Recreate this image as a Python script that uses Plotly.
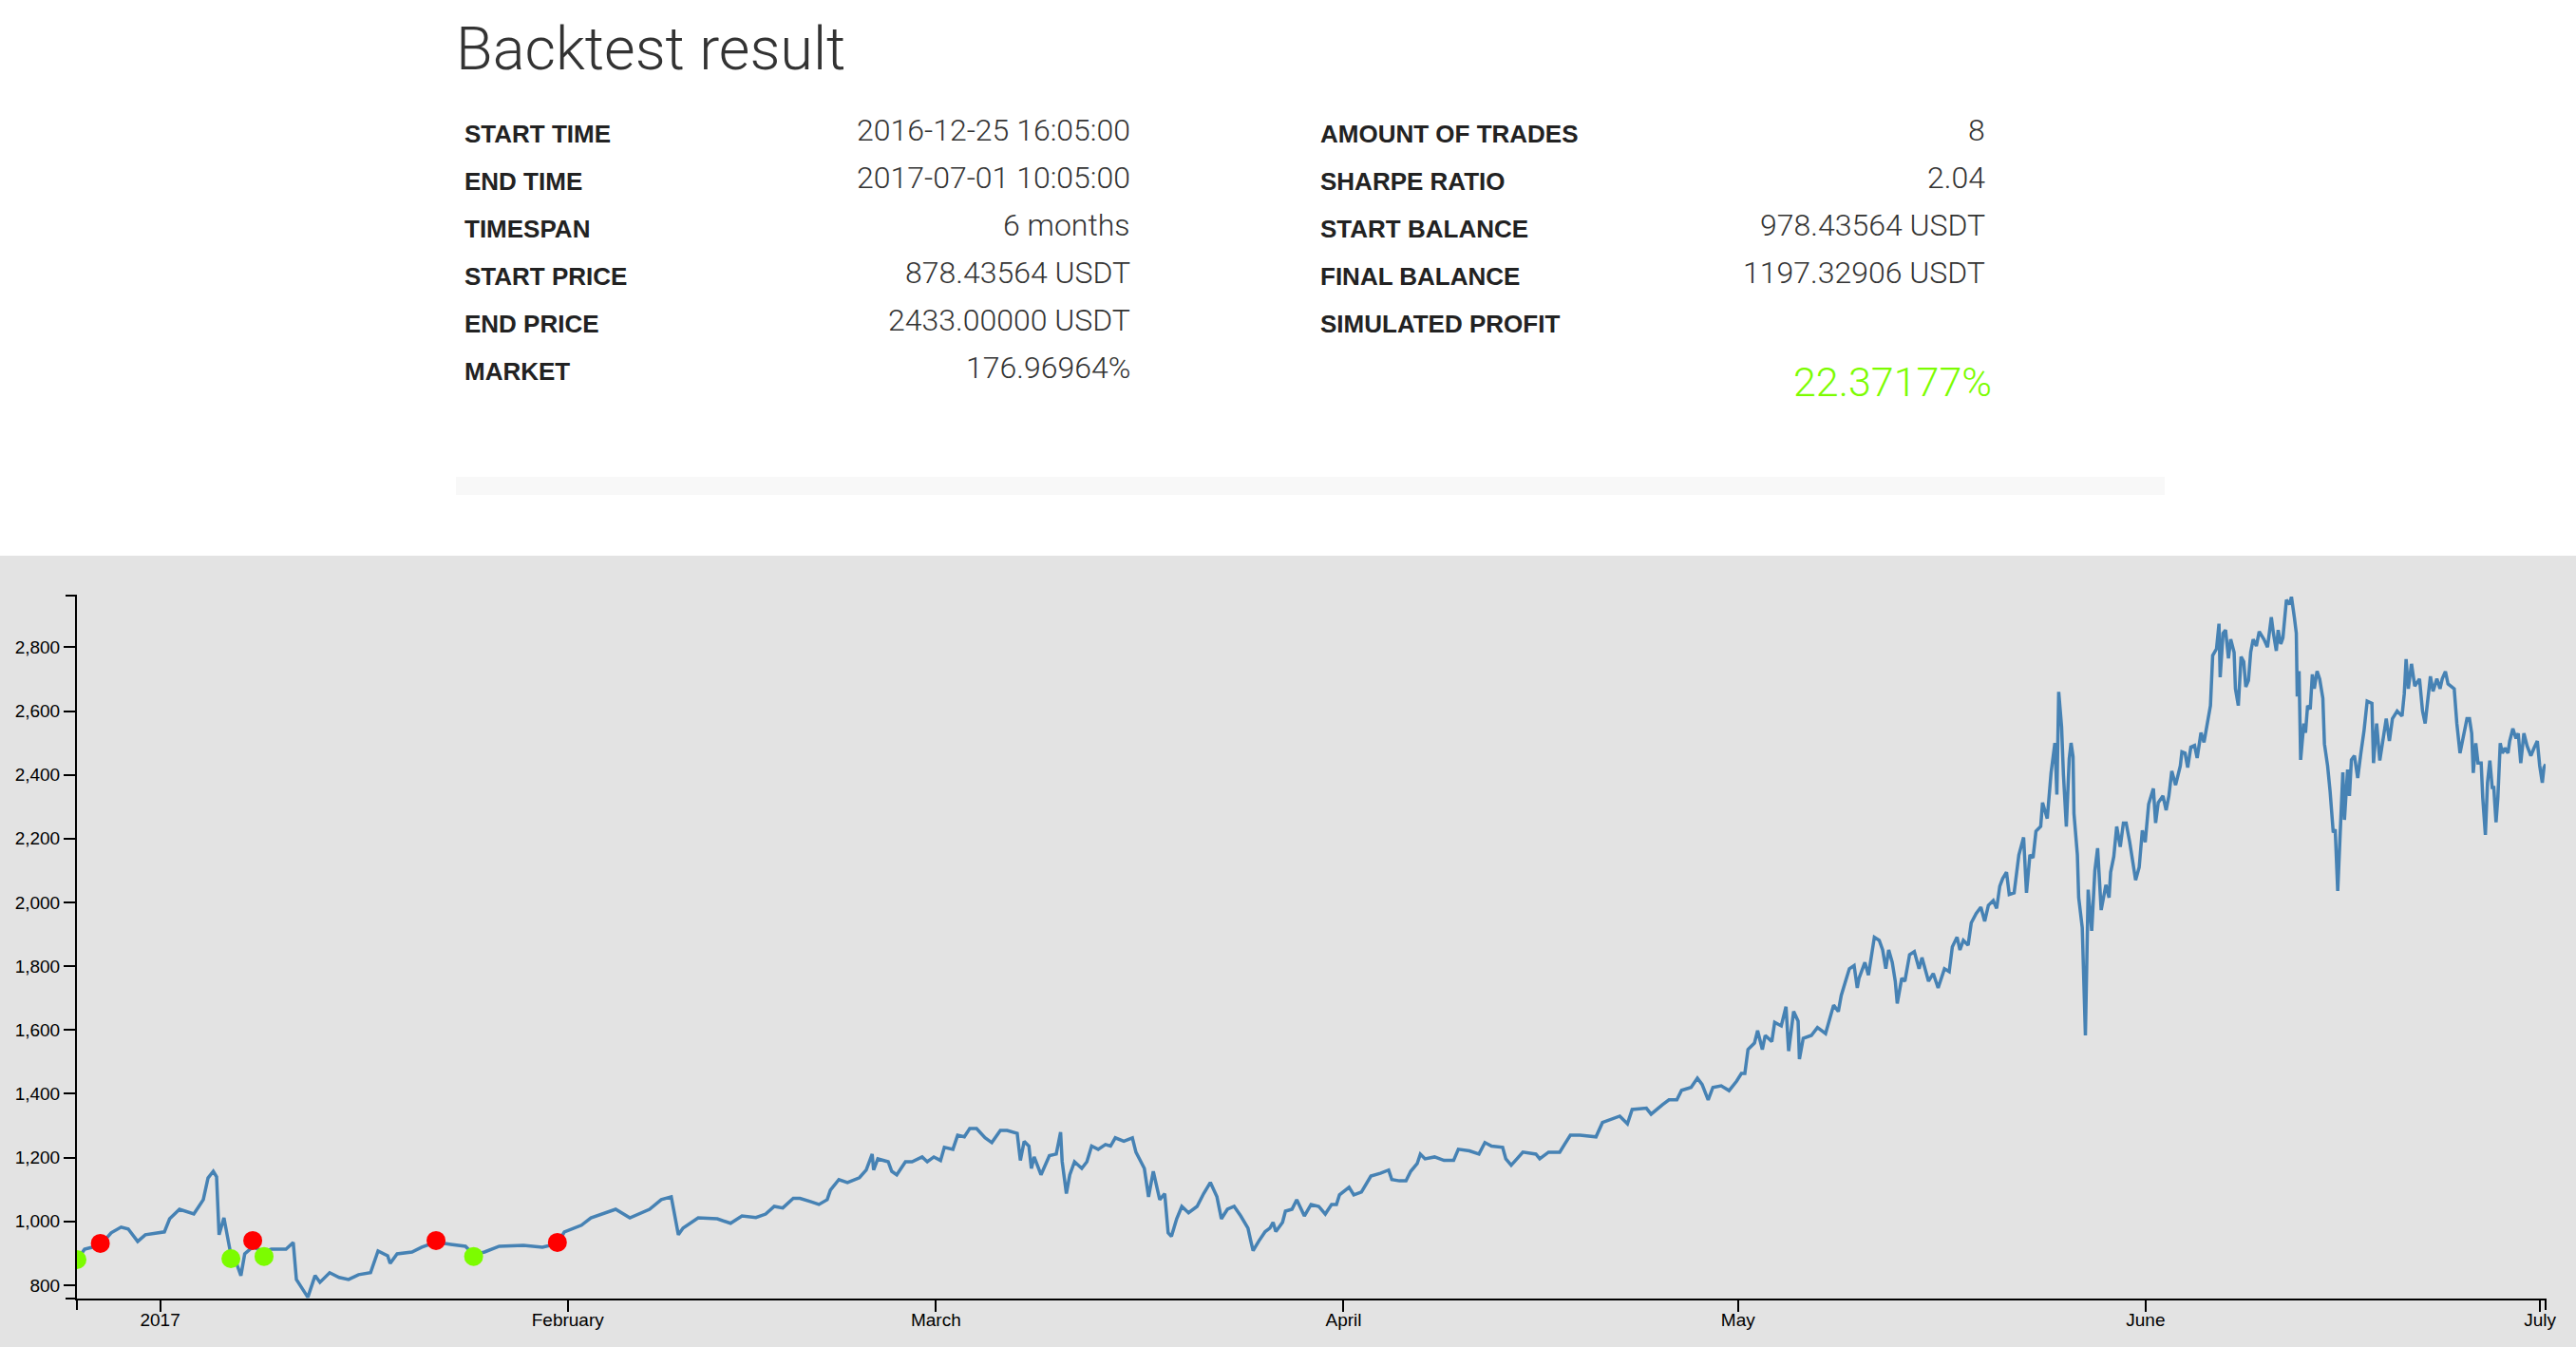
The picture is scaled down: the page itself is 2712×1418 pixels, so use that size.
import pandas as pd
import plotly.graph_objects as go

START = "2016-12-25 16:05:00"
END = "2017-07-01 10:05:00"

# price series: days elapsed since START, and price (USDT)
day_offsets = [
    0.00, 0.58, 1.16, 1.78, 2.60, 3.36, 3.90, 4.62, 5.20, 6.65, 7.05, 7.80, 8.89, 9.61, 9.97,
    10.37, 10.62, 10.81, 11.18, 11.49, 11.71, 11.92, 12.21, 12.47, 12.76, 13.37, 14.23, 14.79,
    15.90, 16.45, 16.69, 17.20, 17.56, 18.11, 18.48, 19.22, 19.94, 20.66, 21.42, 22.33, 22.90,
    23.63, 23.82, 24.35, 25.48, 26.23, 27.31, 28.43, 29.55, 30.17, 31.00, 32.12, 33.96, 35.40,
    36.54, 37.07, 38.37, 39.09, 40.97, 42.05, 43.55, 44.44, 45.20, 45.74, 46.10, 47.25, 48.70,
    49.71, 50.58, 51.64, 52.38, 53.03, 53.68, 54.48, 54.99, 55.78, 56.43, 57.06, 57.30, 57.95,
    58.60, 59.51, 60.03, 60.48, 60.59, 60.91, 61.70, 61.97, 62.35, 63.01, 63.51, 64.28, 64.67,
    65.17, 65.68, 65.97, 66.62, 66.98, 67.49, 67.90, 68.42, 69.06, 69.58, 70.23, 70.74, 71.51,
    71.75, 72.04, 72.40, 72.59, 72.80, 73.32, 73.96, 74.48, 74.81, 74.93, 75.25, 75.51, 75.87,
    76.42, 76.81, 77.17, 77.67, 78.22, 78.61, 78.97, 79.62, 80.27, 80.54, 80.92, 81.18, 81.50,
    81.86, 82.35, 82.73, 82.99, 83.24, 83.64, 84.03, 84.54, 85.19, 85.69, 86.20, 86.70, 87.04,
    87.50, 88.01, 88.51, 89.06, 89.28, 89.45, 89.88, 90.37, 90.73, 90.97, 91.18, 91.69, 91.91,
    92.41, 92.77, 93.35, 93.86, 94.44, 94.94, 95.42, 95.79, 96.02, 96.75, 97.11, 97.69, 98.41,
    99.13, 99.76, 100.00, 100.58, 101.08, 101.44, 101.93, 102.17, 102.53, 103.25, 103.97, 104.70,
    105.06, 105.90, 106.63, 107.08, 107.59, 108.43, 108.67, 109.08, 109.52, 109.97, 110.96,
    111.25, 111.92, 112.77, 113.13, 113.58, 114.31, 115.53, 116.02, 116.74, 117.34, 117.92,
    118.28, 119.36, 119.72, 120.59, 121.08, 121.68, 122.04, 122.76, 123.24, 123.60, 124.06,
    124.42, 125.05, 125.65, 126.23, 126.59, 126.85, 127.09, 127.58, 127.82, 128.18, 128.40,
    128.90, 129.12, 129.62, 129.98, 130.18, 130.56, 130.90, 131.00, 131.29, 131.91, 132.37,
    132.99, 133.36, 133.60, 133.96, 134.18, 134.54, 134.80, 135.16, 135.40, 135.53, 135.98,
    136.25, 136.70, 137.07, 137.33, 137.57, 137.79, 138.06, 138.29, 138.44, 138.78, 139.02,
    139.38, 139.74, 140.10, 140.32, 140.82, 141.18, 141.55, 142.03, 142.39, 142.63, 142.99,
    143.21, 143.47, 143.83, 144.07, 144.44, 144.80, 145.09, 145.37, 145.74, 146.00, 146.24,
    146.46, 146.75, 146.96, 147.33, 147.69, 148.05, 148.27, 148.53, 148.77, 148.99, 149.35,
    149.49, 149.85, 150.14, 150.43, 150.58, 150.72, 150.94, 151.08, 151.30, 151.52, 151.66,
    151.81, 151.88, 152.14, 152.24, 152.51, 152.75, 152.96, 153.23, 153.47, 153.68, 153.95,
    154.31, 154.55, 154.67, 154.91, 155.13, 155.40, 155.64, 155.85, 156.12, 156.36, 156.57,
    156.84, 157.08, 157.30, 157.56, 157.92, 158.09, 158.29, 158.65, 158.89, 159.10, 159.32,
    159.61, 159.97, 160.09, 160.33, 160.53, 160.77, 161.05, 161.25, 161.54, 161.77, 161.99,
    162.26, 162.43, 162.72, 162.91, 163.00, 163.22, 163.41, 163.63, 163.80, 164.06, 164.16,
    164.38, 164.59, 164.79, 164.95, 165.15, 165.32, 165.51, 165.75, 165.97, 166.33, 166.60,
    166.89, 167.05, 167.27, 167.41, 167.61, 167.77, 168.04, 168.28, 168.42, 168.64, 168.79,
    168.86, 169.00, 169.12, 169.36, 169.49, 169.65, 169.85, 170.01, 170.16, 170.37, 170.57,
    170.81, 170.93, 171.17, 171.36, 171.60, 171.75, 171.94, 172.11, 172.33, 172.45, 172.69,
    172.83, 172.98, 173.21, 173.46, 173.70, 173.94, 174.18, 174.54, 174.66, 174.90, 175.14,
    175.38, 175.63, 175.87, 176.10, 176.46, 176.83, 177.00, 177.14, 177.31, 177.55, 177.80,
    178.16, 178.39, 178.59, 178.76, 178.99, 179.19, 179.48, 179.72, 179.89, 180.13, 180.33,
    180.80, 181.00, 181.24, 181.52, 181.77, 181.96, 182.13, 182.25, 182.44, 182.61, 182.85,
    182.97, 183.17, 183.33, 183.51, 183.69, 183.81, 183.98, 184.12, 184.30, 184.46, 184.66,
    184.89, 185.02, 185.26, 185.50, 185.67, 185.86, 186.10, 186.34, 186.63, 186.87, 187.12,
    187.30, 187.50, 187.62, 187.75,
]

prices = [
    878, 913, 919, 925, 964, 982, 976, 937, 958, 967, 1008, 1038, 1023, 1068, 1136,
    1157, 1140, 958, 1011, 949, 895, 905, 860, 830, 898, 920, 905, 913,
    913, 934, 818, 785, 762, 830, 809, 839, 824, 818, 833, 839, 907,
    892, 868, 898, 904, 919, 935, 928, 922, 895, 904, 922, 925, 919,
    930, 967, 988, 1011, 1038, 1011, 1038, 1068, 1077, 958, 979, 1011, 1008,
    994, 1017, 1012, 1023, 1047, 1042, 1072, 1072, 1062, 1053, 1068, 1098, 1131,
    1122, 1137, 1161, 1211, 1161, 1196, 1187, 1157, 1146, 1187, 1187, 1202, 1187,
    1202, 1191, 1232, 1226, 1270, 1265, 1291, 1291, 1262, 1247, 1285, 1285, 1276,
    1191, 1251, 1236, 1166, 1202, 1146, 1206, 1211, 1280, 1187, 1087, 1146, 1187,
    1166, 1187, 1236, 1226, 1241, 1236, 1262, 1251, 1262, 1217, 1187, 1166, 1077,
    1157, 1068, 1087, 964, 953, 1008, 1047, 1027, 1047, 1087, 1122, 1077, 1008,
    1038, 1047, 1017, 979, 938, 908, 938, 968, 979, 997, 968, 997, 1032,
    1038, 1068, 1017, 1053, 1047, 1023, 1053, 1053, 1083, 1107, 1083, 1092, 1142,
    1151, 1161, 1131, 1127, 1127, 1157, 1181, 1211, 1196, 1202, 1191, 1191,
    1226, 1221, 1211, 1247, 1236, 1232, 1196, 1176, 1196, 1217, 1211,
    1196, 1217, 1217, 1241, 1270, 1270, 1265, 1310, 1321, 1330, 1306,
    1351, 1355, 1336, 1366, 1381, 1381, 1411, 1420, 1449, 1429, 1381,
    1420, 1425, 1410, 1440, 1464, 1464, 1539, 1559, 1598, 1539, 1583,
    1564, 1624, 1613, 1673, 1534, 1658, 1628, 1509, 1574, 1583, 1608,
    1589, 1648, 1678, 1658, 1708, 1757, 1792, 1802, 1732, 1762, 1812,
    1772, 1891, 1881, 1851, 1792, 1851, 1812, 1753, 1683, 1762, 1753,
    1836, 1846, 1792, 1827, 1753, 1777, 1732, 1792, 1783, 1861, 1891,
    1851, 1881, 1866, 1936, 1965, 1985, 1941, 1991, 2006, 1981, 2051,
    2075, 2095, 2025, 2030, 2149, 2204, 2030, 2149, 2140, 2223, 2238,
    2313, 2263, 2407, 2500, 2338, 2660, 2550, 2400, 2238, 2450, 2500,
    2457, 2279, 2149, 2015, 1921, 1583, 2040, 1911, 2100, 2170, 1976,
    2055, 2015, 2095, 2144, 2238, 2174, 2249, 2249, 2189, 2119, 2070,
    2110, 2226, 2189, 2308, 2357, 2249, 2313, 2334, 2289, 2334, 2412,
    2368, 2428, 2472, 2468, 2423, 2487, 2492, 2453, 2532, 2502, 2557,
    2617, 2774, 2795, 2874, 2706, 2844, 2854, 2765, 2825, 2784, 2670,
    2617, 2770, 2755, 2676, 2696, 2784, 2825, 2804, 2849, 2825, 2800,
    2894, 2844, 2789, 2854, 2810, 2829, 2949, 2934, 2958, 2894, 2844,
    2646, 2725, 2447, 2561, 2532, 2617, 2606, 2715, 2670, 2725, 2700,
    2640, 2497, 2428, 2348, 2219, 2229, 2036, 2200, 2408, 2259, 2417,
    2334, 2447, 2460, 2390, 2468, 2538, 2631, 2624, 2437, 2561, 2445,
    2514, 2576, 2506, 2576, 2600, 2584, 2654, 2763, 2670, 2748, 2678,
    2701, 2600, 2561, 2624, 2709, 2662, 2701, 2670, 2701, 2724, 2685,
    2670, 2561, 2468, 2530, 2576, 2576, 2530, 2406, 2499, 2437, 2437,
    2328, 2212, 2375, 2445, 2360, 2360, 2251, 2328, 2499, 2468, 2484,
    2468, 2506, 2545, 2514, 2530, 2437, 2530, 2491, 2460, 2484, 2506,
    2429, 2375, 2422, 2433,
]

# trades
buy_days = [0.00, 11.71, 14.23, 30.17]
buy_prices = [880, 883, 890, 890]
sell_days = [1.78, 13.37, 27.31, 36.54]
sell_prices = [931, 940, 940, 934]

# axes
y_tick_vals = [800, 1000, 1200, 1400, 1600, 1800, 2000, 2200, 2400, 2600, 2800]
y_range = [758, 2962]
x_tick_dates = ["2017-01-01", "2017-02-01", "2017-03-01", "2017-04-01",
                "2017-05-01", "2017-06-01", "2017-07-01"]
x_tick_text = ["2017", "February", "March", "April", "May", "June", "July"]

# summary table
title_text = "Backtest result"
left_labels = ["START TIME", "END TIME", "TIMESPAN", "START PRICE", "END PRICE", "MARKET"]
left_values = ["2016-12-25 16:05:00", "2017-07-01 10:05:00", "6 months",
               "878.43564 USDT", "2433.00000 USDT", "176.96964%"]
right_labels = ["AMOUNT OF TRADES", "SHARPE RATIO", "START BALANCE", "FINAL BALANCE",
                "SIMULATED PROFIT"]
right_values = ["8", "2.04", "978.43564 USDT", "1197.32906 USDT", ""]
profit_text = "22.37177%"

# ---------------------------------------------------------------------------
W, H = 2712, 1418
ML, MR, MT, MB = 81, 32, 627, 51
PW = W - ML - MR
PH = H - MT - MB


def px_x(x):
    return (x - ML) / PW


def px_y(y):
    return (H - MB - y) / PH


start_ts = pd.Timestamp(START)
times = start_ts + pd.to_timedelta(day_offsets, unit="D")
buy_times = start_ts + pd.to_timedelta(buy_days, unit="D")
sell_times = start_ts + pd.to_timedelta(sell_days, unit="D")

fig = go.Figure()
fig.add_trace(go.Scatter(x=times, y=prices, mode="lines",
                         line=dict(color="#4682b4", width=3.5), hoverinfo="skip"))
fig.add_trace(go.Scatter(x=buy_times, y=buy_prices, mode="markers",
                         marker=dict(color="#7cfc00", size=20, line=dict(width=0)),
                         hoverinfo="skip"))
fig.add_trace(go.Scatter(x=sell_times, y=sell_prices, mode="markers",
                         marker=dict(color="#ff0000", size=20, line=dict(width=0)),
                         hoverinfo="skip"))

shapes = [
    # grey chart panel
    dict(type="rect", xref="paper", yref="paper", layer="below",
         x0=px_x(0), x1=px_x(W), y0=px_y(H), y1=px_y(585),
         fillcolor="#e3e3e3", line=dict(width=0)),
    # faint separator bar
    dict(type="rect", xref="paper", yref="paper", layer="below",
         x0=px_x(480), x1=px_x(2279), y0=px_y(521), y1=px_y(502),
         fillcolor="#f8f8f8", line=dict(width=0)),
]
# d3-style outer ticks at axis ends
tk = 12
for (x0, y0, x1, y1) in [
    (ML - tk, MT, ML, MT), (ML - tk, H - MB, ML, H - MB),
    (ML, H - MB, ML, H - MB + tk), (W - MR, H - MB, W - MR, H - MB + tk),
]:
    shapes.append(dict(type="line", xref="paper", yref="paper",
                       x0=px_x(x0), y0=px_y(y0), x1=px_x(x1), y1=px_y(y1),
                       line=dict(color="#000", width=2)))

annotations = []
TXT = "#333333"
LIGHT = dict(family="Roboto, Helvetica Neue, Arial", size=32, color=TXT, weight=300)
BOLD = dict(family="Liberation Sans, Arial, Helvetica", size=26, color="#222222")

annotations.append(dict(text=title_text, x=px_x(478), y=px_y(51), xref="paper", yref="paper",
                        xanchor="left", yanchor="middle", showarrow=False,
                        font=dict(family="Roboto, Helvetica Neue, Arial", size=63,
                                  color=TXT, weight=300)))
row_y = [141, 191, 241, 291, 341, 391]
for i, (lab, val) in enumerate(zip(left_labels, left_values)):
    annotations.append(dict(text="<b>" + lab + "</b>", x=px_x(487), y=px_y(row_y[i]),
                            xref="paper", yref="paper", xanchor="left", yanchor="middle",
                            showarrow=False, font=BOLD))
    annotations.append(dict(text=val, x=px_x(1192), y=px_y(row_y[i] - 4),
                            xref="paper", yref="paper", xanchor="right", yanchor="middle",
                            showarrow=False, font=LIGHT))
for i, (lab, val) in enumerate(zip(right_labels, right_values)):
    annotations.append(dict(text="<b>" + lab + "</b>", x=px_x(1388), y=px_y(row_y[i]),
                            xref="paper", yref="paper", xanchor="left", yanchor="middle",
                            showarrow=False, font=BOLD))
    if val:
        annotations.append(dict(text=val, x=px_x(2092), y=px_y(row_y[i] - 4),
                                xref="paper", yref="paper", xanchor="right",
                                yanchor="middle", showarrow=False, font=LIGHT))
annotations.append(dict(text=profit_text, x=px_x(2099), y=px_y(402), xref="paper",
                        yref="paper", xanchor="right", yanchor="middle", showarrow=False,
                        font=dict(family="Roboto, Helvetica Neue, Arial", size=43,
                                  color="#7cfc00", weight=300)))

axis_font = dict(family="Liberation Sans, Arial, Helvetica", size=19, color="#000")
fig.update_layout(
    width=W, height=H,
    margin=dict(l=ML, r=MR, t=MT, b=MB, pad=0),
    paper_bgcolor="#ffffff", plot_bgcolor="#e3e3e3",
    showlegend=False, hovermode=False,
    shapes=shapes, annotations=annotations,
    xaxis=dict(type="date", range=[START, END], tickvals=x_tick_dates, ticktext=x_tick_text,
               showgrid=False, zeroline=False, showline=True, linecolor="#000", linewidth=2,
               ticks="outside", ticklen=12, tickwidth=2, tickcolor="#000",
               ticklabelstandoff=-8,
               tickfont=axis_font, fixedrange=True),
    yaxis=dict(range=y_range, tickvals=y_tick_vals, tickformat=",d",
               showgrid=False, zeroline=False, showline=True, linecolor="#000", linewidth=2,
               ticks="outside", ticklen=12, tickwidth=2, tickcolor="#000",
               tickfont=axis_font, fixedrange=True),
)

fig.write_html("out.html", config={"displayModeBar": False, "staticPlot": True})
